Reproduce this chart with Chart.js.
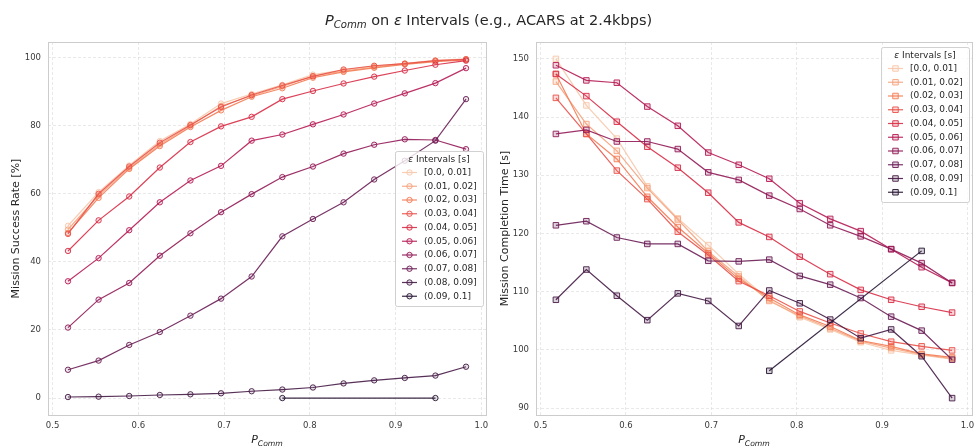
<!DOCTYPE html>
<html lang="en">
<head>
<meta charset="UTF-8">
<title>P_Comm on ε Intervals</title>
<script src="https://cdn.jsdelivr.net/npm/chart.js@4.4.0/dist/chart.umd.min.js"></script>
<style>
  body { margin: 0; background: #fff; }
  #wrap { position: relative; width: 977px; height: 446px; overflow: hidden; }
  #wrap canvas { position: absolute; left: 0; top: 0; }
  #title {
    position: absolute; left: 0; top: 12px; width: 977px; text-align: center;
    font: 14.5px "DejaVu Sans"; line-height: 17px; color: #262626;
  }
  #title sub { font-size: 0.7em; line-height: 0; vertical-align: -3px; }
</style>
</head>
<body>
<div id="wrap">
  <canvas id="successChart" width="977" height="446"></canvas>
  <canvas id="timeChart" width="977" height="446"></canvas>
  <div id="title"><i>P</i><sub><i>Comm</i></sub> on <i>ε</i> Intervals (e.g., ACARS at 2.4kbps)</div>
</div>

<script>
// P_Comm bin centres (14 bins over 0.5 .. 1.0)
const xCenters = [0.5179, 0.5536, 0.5893, 0.625, 0.6607, 0.6964, 0.7321, 0.7679, 0.8036, 0.8393, 0.875, 0.9107, 0.9464, 0.9821];
const intervalLabels = ['[0.0, 0.01]', '(0.01, 0.02]', '(0.02, 0.03]', '(0.03, 0.04]', '(0.04, 0.05]',
                        '(0.05, 0.06]', '(0.06, 0.07]', '(0.07, 0.08]', '(0.08, 0.09]', '(0.09, 0.1]'];
// rocket_r, 10 steps
const rocketR = ['#f7c8ab', '#f5a37e', '#f37c57', '#e95149', '#d82e46', '#b61c55', '#911b58', '#6a1e55', '#451b45', '#231231'];

const xTicks = [0.5, 0.6, 0.7, 0.8, 0.9, 1.0];
const successTicks = [0, 20, 40, 60, 80, 100];
const timeTicks = [90, 100, 110, 120, 130, 140, 150];

// Mission success rate [%]
const success01 = [50.6, 60.5, 68.3, 75.5, 80.5, 86.5, 89.3, 92.0, 95.0, 96.3, 97.5, 98.3, 99.2, 99.6];
const success02 = [49.5, 59.5, 67.6, 74.5, 80.0, 85.8, 88.8, 91.5, 94.6, 96.0, 97.2, 98.2, 99.0, 99.5];
const success03 = [48.5, 58.8, 67.3, 74.0, 79.6, 84.5, 88.5, 91.0, 94.1, 95.8, 97.0, 98.0, 98.8, 99.3];
const success04 = [48.2, 60.0, 68.0, 75.0, 80.2, 85.5, 89.0, 91.8, 94.5, 96.5, 97.6, 98.2, 99.1, 99.5];
const success05 = [43.2, 52.2, 59.2, 67.7, 75.2, 79.8, 82.6, 87.8, 90.2, 92.4, 94.4, 96.2, 97.9, 99.1];
const success06 = [34.3, 41.1, 49.3, 57.5, 63.9, 68.2, 75.6, 77.4, 80.4, 83.3, 86.5, 89.5, 92.5, 96.9];
const success07 = [20.7, 28.9, 33.8, 41.8, 48.4, 54.6, 59.9, 64.9, 68.0, 71.8, 74.4, 76.0, 75.8, 73.1];
const success08 = [8.3, 11.0, 15.6, 19.4, 24.2, 29.2, 35.7, 47.5, 52.6, 57.5, 64.2, 69.7, 75.6, 87.8];
const success09 = [0.3, 0.4, 0.6, 0.9, 1.1, 1.4, 2.0, 2.5, 3.1, 4.3, 5.2, 5.9, 6.6, 9.2];
const success10 = [null, null, null, null, null, null, null, 0.0, null, null, null, null, 0.0, null];

// Mission completion time [s]
const time01 = [150.0, 142.0, 136.3, 128.1, 122.6, 118.0, 113.0, 108.6, 105.6, 103.5, 101.3, 99.9, 99.1, 98.4];
const time02 = [146.1, 138.8, 134.2, 127.8, 122.4, 116.9, 112.6, 108.4, 105.8, 103.7, 101.5, 100.3, 99.2, 98.5];
const time03 = [147.4, 137.1, 132.8, 126.3, 121.1, 116.6, 112.2, 108.9, 106.0, 104.0, 101.6, 100.6, 99.3, 98.7];
const time04 = [143.3, 137.1, 130.8, 125.9, 120.3, 116.3, 111.8, 109.3, 106.6, 104.6, 102.8, 101.4, 100.6, 99.9];
const time05 = [147.4, 143.6, 139.2, 134.9, 131.3, 127.0, 121.9, 119.4, 116.0, 113.0, 110.3, 108.6, 107.4, 106.4];
const time06 = [148.9, 146.3, 145.9, 141.8, 138.5, 133.9, 131.8, 129.4, 125.2, 122.5, 120.4, 117.3, 114.2, 111.5];
const time07 = [137.1, 137.8, 135.8, 135.8, 134.5, 130.5, 129.2, 126.5, 124.2, 121.4, 119.5, 117.3, 114.9, 111.5];
const time08 = [121.4, 122.1, 119.3, 118.2, 118.2, 115.3, 115.2, 115.5, 112.7, 111.2, 108.9, 105.7, 103.3, 98.3];
const time09 = [108.6, 113.8, 109.3, 105.1, 109.7, 108.4, 104.1, 110.2, 108.0, 105.2, 102.0, 103.5, 98.9, 91.7];
const time10 = [null, null, null, null, null, null, null, 96.4, null, null, null, null, 117.0, null];

const successSeries = [success01, success02, success03, success04, success05, success06, success07, success08, success09, success10];
const timeSeries = [time01, time02, time03, time04, time05, time06, time07, time08, time09, time10];

const FONT = '"DejaVu Sans"';
const tickColor = '#3a3a3a';
const labelColor = '#262626';
const gridColor = 'rgba(204,204,204,0.55)';

function rgba(hex, a) {
    const n = parseInt(hex.slice(1), 16);
    return `rgba(${n >> 16},${(n >> 8) & 255},${n & 255},${a})`;
}

function buildDatasets(series, pointStyle, radius, faceAlpha) {
    return series.map((vals, i) => ({
        label: intervalLabels[i],
        data: xCenters.map((x, j) => ({ x: x, y: vals[j] })),
        borderColor: rgba(rocketR[i], 0.9),
        backgroundColor: rgba(rocketR[i], faceAlpha),
        pointBorderColor: rgba(rocketR[i], 0.9),
        pointBackgroundColor: rgba(rocketR[i], faceAlpha),
        borderWidth: 1.2,
        pointStyle: pointStyle,
        pointRadius: radius,
        pointBorderWidth: 1,
        spanGaps: true,
        tension: 0,
        order: series.length - i   // later intervals drawn on top
    }));
}

// frame, subscripted x title and the in-axes legend
const panelDecor = {
    id: 'panelDecor',
    afterDraw(chart, args, opts) {
        const { ctx, chartArea: a } = chart;
        ctx.save();

        ctx.strokeStyle = '#cccccc';
        ctx.lineWidth = 1;
        ctx.strokeRect(Math.round(a.left) + 0.5, Math.round(a.top) + 0.5,
                       Math.round(a.right - a.left), Math.round(a.bottom - a.top));

        // x title: P_Comm
        ctx.fillStyle = labelColor;
        ctx.textBaseline = 'alphabetic';
        ctx.textAlign = 'left';
        ctx.font = `italic 11px ${FONT}`;
        const wP = ctx.measureText('P').width;
        ctx.font = `italic 7.7px ${FONT}`;
        const wSub = ctx.measureText('Comm').width;
        const x0 = (a.left + a.right) / 2 - (wP + wSub) / 2;
        ctx.font = `italic 11px ${FONT}`;
        ctx.fillText('P', x0, 443);
        ctx.font = `italic 7.7px ${FONT}`;
        ctx.fillText('Comm', x0 + wP, 445.5);

        // legend
        const w = 88, h = 155;
        const lx = a.right - 3 - w;
        const ly = opts.anchor === 'top' ? a.top + 5 : (a.top + a.bottom) / 2 - h / 2;
        ctx.fillStyle = 'rgba(255,255,255,0.8)';
        ctx.strokeStyle = 'rgba(204,204,204,0.9)';
        ctx.beginPath();
        ctx.roundRect(lx + 0.5, ly + 0.5, w, h, 2);
        ctx.fill();
        ctx.stroke();

        ctx.fillStyle = labelColor;
        ctx.font = `9px ${FONT}`;
        const rest = ' Intervals [s]';
        const wRest = ctx.measureText(rest).width;
        ctx.font = `italic 9px ${FONT}`;
        const wEps = ctx.measureText('ε').width;
        const tx = lx + w / 2 - (wEps + wRest) / 2;
        ctx.textBaseline = 'middle';
        ctx.fillText('ε', tx, ly + 8.5);
        ctx.font = `9px ${FONT}`;
        ctx.fillText(rest, tx + wEps, ly + 8.5);

        chart.data.datasets.forEach((ds, i) => {
            const ry = ly + 21.5 + i * 13.75;
            ctx.strokeStyle = ds.borderColor;
            ctx.lineWidth = ds.borderWidth;
            ctx.beginPath();
            ctx.moveTo(lx + 7, ry);
            ctx.lineTo(lx + 22, ry);
            ctx.stroke();
            ctx.fillStyle = ds.pointBackgroundColor;
            ctx.strokeStyle = ds.pointBorderColor;
            ctx.lineWidth = ds.pointBorderWidth;
            Chart.helpers.drawPoint(ctx, { pointStyle: ds.pointStyle, radius: ds.pointRadius, borderWidth: 1, rotation: 0 }, lx + 14.5, ry);
            ctx.fillStyle = labelColor;
            ctx.fillText(ds.label, lx + 29, ry);
        });

        ctx.restore();
    }
};

function buildScales(yMin, yMax, yTicks, yTitle, yWidth, titlePad) {
    return {
        x: {
            type: 'linear',
            min: 0.4946,
            max: 1.0054,
            afterBuildTicks: s => { s.ticks = xTicks.map(v => ({ value: v })); },
            afterFit: s => { s.height = 31; s.paddingLeft = 0; s.paddingRight = 0; },
            grid: { color: gridColor, lineWidth: 0.8, drawTicks: false },
            border: { display: false, dash: [3, 2] },
            ticks: {
                padding: 6, color: tickColor, maxRotation: 0, autoSkip: false,
                font: { family: FONT, size: 8.5 },
                callback: v => v.toFixed(1)
            }
        },
        y: {
            min: yMin,
            max: yMax,
            afterBuildTicks: s => { s.ticks = yTicks.map(v => ({ value: v })); },
            afterFit: s => { s.width = yWidth; s.paddingTop = 0; s.paddingBottom = 0; },
            grid: { color: gridColor, lineWidth: 0.8, drawTicks: false },
            border: { display: false, dash: [3, 2] },
            ticks: {
                padding: 7, color: tickColor, autoSkip: false,
                font: { family: FONT, size: 8.5 },
                callback: v => String(v)
            },
            title: {
                display: true, text: yTitle, color: labelColor,
                font: { family: FONT, size: 11 },
                padding: { top: titlePad, bottom: 0 }
            }
        }
    };
}

function makeChart(id, series, pointStyle, radius, faceAlpha, padding, scales, legendAnchor) {
    return new Chart(document.getElementById(id), {
        type: 'line',
        data: { datasets: buildDatasets(series, pointStyle, radius, faceAlpha) },
        options: {
            responsive: false,
            animation: false,
            devicePixelRatio: 1,
            layout: { padding: padding },
            scales: scales,
            plugins: {
                legend: { display: false },
                title: { display: false },
                tooltip: { enabled: false },
                panelDecor: { anchor: legendAnchor }
            }
        },
        plugins: [panelDecor]
    });
}

makeChart('successChart', successSeries, 'circle', 2.7, 0.12,
    { left: 0, right: 491, top: 42, bottom: 0 },
    buildScales(-4.98, 104.58, successTicks, 'Mission Success Rate [%]', 48, 10), 'center');

makeChart('timeChart', timeSeries, 'rect', 3.9, 0.2,
    { left: 490, right: 5, top: 42, bottom: 0 },
    buildScales(88.8, 152.9, timeTicks, 'Mission Completion Time [s]', 46, 8.5), 'top');
</script>
</body>
</html>
